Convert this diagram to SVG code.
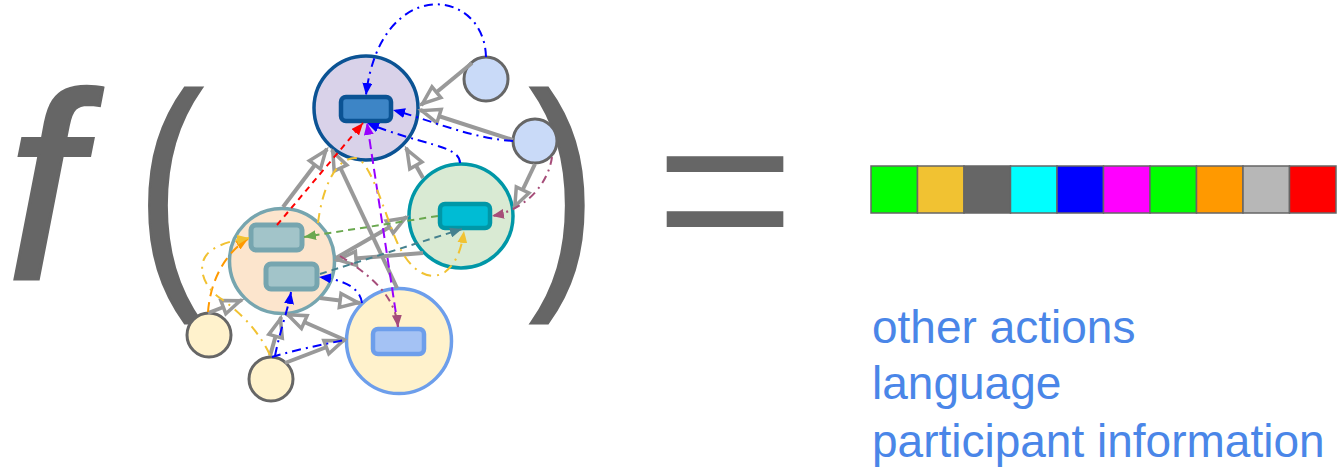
<svg xmlns="http://www.w3.org/2000/svg" width="1344" height="470" viewBox="0 0 1344 470">
<style>
.big{font-family:"Liberation Sans",Arial,sans-serif;fill:#666;stroke:#666}
.lbl{font-family:"Liberation Sans",Arial,sans-serif;font-size:46px;fill:#4a86e8}
.cell{stroke:#666;stroke-width:1.5}
.g{fill:none;stroke:#999;stroke-width:4;marker-end:url(#ag)}
.c{fill:none;stroke-width:2}
.sm{stroke:#666;stroke-width:3}
</style>
<defs>
<marker id="ag" viewBox="-3 -3 28 20" refX="20" refY="7" markerWidth="28" markerHeight="20" markerUnits="userSpaceOnUse" orient="auto"><path d="M0,0 L18,7 L0,14 z" fill="#fff" stroke="#999" stroke-width="3.5"/></marker>
<marker id="mb" viewBox="0 0 12 10" refX="12" refY="5" markerWidth="12" markerHeight="10" markerUnits="userSpaceOnUse" orient="auto"><path d="M0,0 L12,5 L0,10 z" fill="#0000ff"/></marker>
<marker id="mr" viewBox="0 0 12 10" refX="12" refY="5" markerWidth="12" markerHeight="10" markerUnits="userSpaceOnUse" orient="auto"><path d="M0,0 L12,5 L0,10 z" fill="#ff0000"/></marker>
<marker id="mp" viewBox="0 0 12 10" refX="12" refY="5" markerWidth="12" markerHeight="10" markerUnits="userSpaceOnUse" orient="auto"><path d="M0,0 L12,5 L0,10 z" fill="#9900ff"/></marker>
<marker id="mm" viewBox="0 0 12 10" refX="12" refY="5" markerWidth="12" markerHeight="10" markerUnits="userSpaceOnUse" orient="auto"><path d="M0,0 L12,5 L0,10 z" fill="#a64d79"/></marker>
<marker id="mg" viewBox="0 0 12 10" refX="12" refY="5" markerWidth="12" markerHeight="10" markerUnits="userSpaceOnUse" orient="auto"><path d="M0,0 L12,5 L0,10 z" fill="#6aa84f"/></marker>
<marker id="mt" viewBox="0 0 12 10" refX="12" refY="5" markerWidth="12" markerHeight="10" markerUnits="userSpaceOnUse" orient="auto"><path d="M0,0 L12,5 L0,10 z" fill="#45818e"/></marker>
<marker id="my" viewBox="0 0 12 10" refX="12" refY="5" markerWidth="12" markerHeight="10" markerUnits="userSpaceOnUse" orient="auto"><path d="M0,0 L12,5 L0,10 z" fill="#f1c232"/></marker>
<marker id="mo" viewBox="0 0 12 10" refX="12" refY="5" markerWidth="12" markerHeight="10" markerUnits="userSpaceOnUse" orient="auto"><path d="M0,0 L12,5 L0,10 z" fill="#ff9900"/></marker>
</defs>
<rect width="1344" height="470" fill="#fff"/>

<g id="formula">
<text class="big" x="6" y="279" font-size="266" font-style="italic" stroke-width="3">f</text>
<text class="big" transform="translate(137,271) scale(0.78,1)" font-size="253" stroke-width="3">(</text>
<text class="big" transform="translate(530,271) scale(0.78,1)" font-size="253" stroke-width="3">)</text>
<text class="big" transform="translate(655,264) scale(1,0.91)" font-size="240" stroke-width="0">=</text>
</g>

<g id="vector">
<rect class="cell" x="871" y="166" width="46.5" height="47" fill="#00ff00"/>
<rect class="cell" x="917.5" y="166" width="46.5" height="47" fill="#f1c232"/>
<rect class="cell" x="964" y="166" width="46.5" height="47" fill="#666666"/>
<rect class="cell" x="1010.5" y="166" width="46.5" height="47" fill="#00ffff"/>
<rect class="cell" x="1057" y="166" width="46.5" height="47" fill="#0000ff"/>
<rect class="cell" x="1103.5" y="166" width="46.5" height="47" fill="#ff00ff"/>
<rect class="cell" x="1150" y="166" width="46.5" height="47" fill="#00ff00"/>
<rect class="cell" x="1196.5" y="166" width="46.5" height="47" fill="#ff9900"/>
<rect class="cell" x="1243" y="166" width="46.5" height="47" fill="#b7b7b7"/>
<rect class="cell" x="1289.5" y="166" width="46.5" height="47" fill="#ff0000"/>
</g>

<g id="labels">
<text class="lbl" x="872" y="343">other actions</text>
<text class="lbl" x="872" y="399">language</text>
<text class="lbl" x="872" y="457">participant information</text>
</g>

<g id="n-top">
<circle cx="366" cy="108" r="52" fill="#d9d2e9" stroke="#0b5394" stroke-width="3.5"/>
<rect x="341" y="97" width="50" height="24" rx="5" fill="#3d85c6" stroke="#0b5394" stroke-width="4.5"/>
</g>
<g id="n-tr"><circle class="sm" cx="486" cy="79" r="22" fill="#c9daf8"/></g>
<g id="n-r"><circle class="sm" cx="535" cy="141" r="22" fill="#c9daf8"/></g>
<g id="n-green">
<circle cx="461" cy="216" r="52" fill="#d9ead3" stroke="#0097a7" stroke-width="3.5"/>
<rect x="440" y="204" width="50" height="24" rx="5" fill="#00bcd4" stroke="#0097a7" stroke-width="4.5"/>
</g>
<g id="n-peach">
<circle cx="282" cy="261" r="52.5" fill="#fce5cd" stroke="#76a5af" stroke-width="3.5"/>
<rect x="251" y="225" width="51" height="25" rx="5" fill="#a2c4c9" stroke="#76a5af" stroke-width="5"/>
<rect x="266" y="264" width="51" height="25" rx="5" fill="#a2c4c9" stroke="#76a5af" stroke-width="5"/>
</g>
<g id="n-ybig">
<circle cx="399" cy="341" r="52.5" fill="#fff2cc" stroke="#6d9eeb" stroke-width="3.5"/>
<rect x="373" y="329" width="51" height="25" rx="5" fill="#a4c2f4" stroke="#6d9eeb" stroke-width="4.5"/>
</g>
<g id="n-bl"><circle class="sm" cx="209" cy="335" r="22" fill="#fff2cc"/></g>
<g id="n-b"><circle class="sm" cx="271" cy="379" r="22" fill="#fff2cc"/></g>

<g id="connectors">
<path class="g" d="M472,63 L421,105"/>
<path class="g" d="M513,140 L420,110"/>
<path class="g" d="M535,164 L514,208"/>
<path class="g" d="M423,178 L406,148"/>
<path class="g" d="M283,207 L327,149"/>
<path class="g" d="M397,288 L332,150"/>
<path class="g" d="M423,253 L336,260"/>
<path class="g" d="M336,258 L407,217"/>
<path class="g" d="M320,298 L360,303"/>
<path class="g" d="M345,340 L286,314"/>
<path class="g" d="M270,356 L281,317"/>
<path class="g" d="M285,363 L345,340"/>
<path class="g" d="M208,313 L242,300"/>

<path class="c" stroke="#0000ff" stroke-dasharray="9,5,2,5" marker-end="url(#mb)" d="M486,57 C484,-14 380,-24 366,95"/>
<path class="c" stroke="#0000ff" stroke-dasharray="9,5,2,5" marker-end="url(#mb)" d="M513,141 C470,138 430,120 393,110"/>
<path class="c" stroke="#0000ff" stroke-dasharray="9,5,2,5" marker-end="url(#mb)" d="M460,163 C460,145 420,145 367,123"/>
<path class="c" stroke="#ff0000" stroke-dasharray="6,5" marker-end="url(#mr)" d="M277,225 L363,123"/>
<path class="c" stroke="#9900ff" stroke-dasharray="10,5" marker-end="url(#mp)" d="M398,327 L367,123"/>
<path class="c" stroke="#a64d79" stroke-dasharray="8,5,2,5" marker-end="url(#mm)" d="M340,256 C370,275 395,295 398,327"/>
<path class="c" stroke="#a64d79" stroke-dasharray="8,5,2,5" marker-end="url(#mm)" d="M552,157 C548,185 525,210 492,216"/>
<path class="c" stroke="#6aa84f" stroke-dasharray="7,5" marker-end="url(#mg)" d="M438,216 L304,237"/>
<path class="c" stroke="#45818e" stroke-dasharray="7,5" marker-end="url(#mt)" d="M320,274 L462,229"/>
<path class="c" stroke="#f1c232" stroke-dasharray="10,6,2,6" marker-end="url(#my)" d="M318,223 C322,190 335,158 355,158 C370,158 385,215 397,242 C410,272 430,282 445,272 C458,262 462,245 464,231"/>
<path class="c" stroke="#ff9900" stroke-dasharray="10,6" marker-end="url(#mo)" d="M208,312 C210,285 222,255 248,239"/>
<path class="c" stroke="#f1c232" stroke-dasharray="10,6,2,6" marker-end="url(#my)" d="M270,355 C258,330 240,312 220,298 C200,284 196,260 212,250 C222,243 235,240 249,238"/>
<path class="c" stroke="#0000ff" stroke-dasharray="9,5,2,5" marker-end="url(#mb)" d="M275,356 C280,330 288,310 291,292"/>
<path class="c" stroke="#0000ff" stroke-dasharray="9,5,2,5" d="M272,357 C295,350 320,345 345,340"/>
<path class="c" stroke="#0000ff" stroke-dasharray="9,5,2,5" marker-end="url(#mb)" d="M362,303 C360,288 345,280 319,277"/>
</g>
</svg>
